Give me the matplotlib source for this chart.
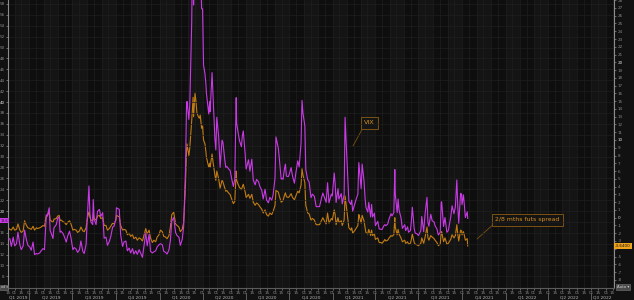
import matplotlib
matplotlib.use('Agg')
import matplotlib.pyplot as plt
import matplotlib.dates as mdates
import matplotlib.transforms as mtransforms
import pandas as pd

# VIX close and 2/8 month VIX futures spread (~2 obs per week)
dates = [
    "2019-02-15", "2019-02-19", "2019-02-22", "2019-02-26",
    "2019-03-01", "2019-03-05", "2019-03-08", "2019-03-12", "2019-03-15", "2019-03-19", "2019-03-22", "2019-03-26", "2019-03-29",
    "2019-04-02", "2019-04-05", "2019-04-09", "2019-04-12", "2019-04-16", "2019-04-18", "2019-04-23", "2019-04-26", "2019-04-30",
    "2019-05-03", "2019-05-07", "2019-05-09", "2019-05-13", "2019-05-15", "2019-05-17", "2019-05-21", "2019-05-23", "2019-05-28", "2019-05-31",
    "2019-06-03", "2019-06-05", "2019-06-07", "2019-06-11", "2019-06-14", "2019-06-18", "2019-06-21", "2019-06-25", "2019-06-28",
    "2019-07-02", "2019-07-05", "2019-07-09", "2019-07-12", "2019-07-16", "2019-07-19", "2019-07-23", "2019-07-26", "2019-07-30",
    "2019-08-01", "2019-08-05", "2019-08-07", "2019-08-09", "2019-08-13", "2019-08-14", "2019-08-16", "2019-08-20", "2019-08-23", "2019-08-27", "2019-08-30",
    "2019-09-03", "2019-09-06", "2019-09-10", "2019-09-13", "2019-09-17", "2019-09-20", "2019-09-24", "2019-09-27",
    "2019-10-01", "2019-10-02", "2019-10-08", "2019-10-11", "2019-10-15", "2019-10-18", "2019-10-22", "2019-10-25", "2019-10-29",
    "2019-11-01", "2019-11-05", "2019-11-08", "2019-11-12", "2019-11-15", "2019-11-19", "2019-11-22", "2019-11-26",
    "2019-12-03", "2019-12-06", "2019-12-10", "2019-12-13", "2019-12-17", "2019-12-20", "2019-12-24", "2019-12-27", "2019-12-31",
    "2020-01-03", "2020-01-07", "2020-01-10", "2020-01-14", "2020-01-17", "2020-01-21", "2020-01-24", "2020-01-27", "2020-01-31",
    "2020-02-04", "2020-02-07", "2020-02-11", "2020-02-14", "2020-02-18", "2020-02-21", "2020-02-24", "2020-02-25", "2020-02-27", "2020-02-28",
    "2020-03-03", "2020-03-05", "2020-03-09", "2020-03-12", "2020-03-13", "2020-03-16", "2020-03-18", "2020-03-20", "2020-03-23", "2020-03-25", "2020-03-27", "2020-03-30",
    "2020-04-01", "2020-04-03", "2020-04-06", "2020-04-08", "2020-04-09", "2020-04-14", "2020-04-16", "2020-04-17", "2020-04-21", "2020-04-23", "2020-04-27", "2020-04-29",
    "2020-05-01", "2020-05-05", "2020-05-08", "2020-05-12", "2020-05-14", "2020-05-18", "2020-05-20", "2020-05-22", "2020-05-27", "2020-05-29",
    "2020-06-02", "2020-06-05", "2020-06-08", "2020-06-11", "2020-06-12", "2020-06-15", "2020-06-18", "2020-06-22", "2020-06-24", "2020-06-26", "2020-06-30",
    "2020-07-02", "2020-07-07", "2020-07-10", "2020-07-14", "2020-07-17", "2020-07-21", "2020-07-24", "2020-07-28", "2020-07-31",
    "2020-08-04", "2020-08-07", "2020-08-11", "2020-08-14", "2020-08-18", "2020-08-21", "2020-08-25", "2020-08-28",
    "2020-09-01", "2020-09-03", "2020-09-08", "2020-09-10", "2020-09-14", "2020-09-16", "2020-09-18", "2020-09-21", "2020-09-23", "2020-09-25", "2020-09-29",
    "2020-10-01", "2020-10-05", "2020-10-08", "2020-10-12", "2020-10-15", "2020-10-19", "2020-10-22", "2020-10-26", "2020-10-28", "2020-10-30",
    "2020-11-03", "2020-11-05", "2020-11-09", "2020-11-12", "2020-11-16", "2020-11-19", "2020-11-23", "2020-11-27",
    "2020-12-01", "2020-12-04", "2020-12-08", "2020-12-11", "2020-12-15", "2020-12-18", "2020-12-21", "2020-12-24", "2020-12-29", "2020-12-31",
    "2021-01-04", "2021-01-06", "2021-01-08", "2021-01-12", "2021-01-14", "2021-01-19", "2021-01-21", "2021-01-25", "2021-01-27", "2021-01-29",
    "2021-02-02", "2021-02-04", "2021-02-08", "2021-02-10", "2021-02-12", "2021-02-17", "2021-02-19", "2021-02-23", "2021-02-25", "2021-02-26",
    "2021-03-02", "2021-03-04", "2021-03-08", "2021-03-10", "2021-03-12", "2021-03-16", "2021-03-18", "2021-03-22", "2021-03-24", "2021-03-26", "2021-03-30",
    "2021-04-01", "2021-04-06", "2021-04-09", "2021-04-13", "2021-04-15", "2021-04-19", "2021-04-21", "2021-04-23", "2021-04-27", "2021-04-30",
    "2021-05-04", "2021-05-06", "2021-05-10", "2021-05-12", "2021-05-13", "2021-05-17", "2021-05-19", "2021-05-21", "2021-05-25", "2021-05-28",
    "2021-06-02", "2021-06-04", "2021-06-08", "2021-06-10", "2021-06-14", "2021-06-16", "2021-06-18", "2021-06-22", "2021-06-24", "2021-06-28",
    "2021-07-01", "2021-07-06", "2021-07-08", "2021-07-12", "2021-07-15", "2021-07-19", "2021-07-21", "2021-07-23", "2021-07-27", "2021-07-30",
    "2021-08-03", "2021-08-05", "2021-08-09", "2021-08-12", "2021-08-16", "2021-08-18", "2021-08-19", "2021-08-23", "2021-08-26", "2021-08-30",
    "2021-09-02", "2021-09-07", "2021-09-10", "2021-09-14", "2021-09-17", "2021-09-20", "2021-09-22", "2021-09-24", "2021-09-28", "2021-09-30",
    "2021-10-01", "2021-10-04", "2021-10-06", "2021-10-08", "2021-10-12", "2021-10-13",
]

vix = [
    14.9, 14.9, 13.5, 15.2,
    13.6, 14.0, 16.1, 13.8, 12.9, 13.6, 16.5, 14.7, 13.7,
    13.4, 12.8, 14.3, 12.0, 12.2, 12.1, 12.3, 12.7, 13.1,
    12.9, 19.3, 19.1, 20.6, 16.4, 16.0, 14.95, 16.9, 17.5, 18.7,
    18.9, 16.1, 16.3, 15.9, 15.3, 14.3, 15.4, 16.3, 15.1,
    12.9, 13.3, 13.0, 12.4, 12.9, 14.5, 12.6, 12.2, 13.9,
    17.9, 24.6, 19.5, 18.0, 17.5, 22.1, 18.5, 17.5, 19.9, 20.3, 19.0,
    19.7, 15.0, 15.2, 13.7, 14.4, 15.3, 17.05, 17.2,
    18.6, 20.6, 20.3, 15.6, 13.5, 14.3, 14.5, 12.7, 13.2,
    12.3, 13.1, 12.1, 12.7, 12.05, 12.9, 12.3, 11.5,
    16.0, 13.6, 15.7, 12.6, 12.3, 12.5, 12.7, 13.4, 13.8,
    14.0, 13.8, 12.6, 12.4, 12.1, 12.85, 14.6, 18.2, 18.8,
    16.05, 15.5, 15.2, 13.7, 14.8, 17.1, 25.0, 27.9, 39.2, 40.1,
    36.8, 39.6, 54.5, 75.5, 57.8, 82.7, 76.5, 66.0, 61.6, 63.9, 65.5, 57.1,
    57.1, 46.8, 45.2, 43.35, 41.7, 37.8, 40.1, 38.2, 45.4, 41.4, 33.3, 31.2,
    37.2, 33.6, 28.0, 33.0, 32.6, 29.3, 28.0, 28.2, 27.6, 27.5,
    25.7, 24.5, 25.8, 40.8, 36.1, 34.4, 32.9, 31.8, 33.8, 34.7, 30.4,
    27.7, 29.4, 27.3, 29.5, 25.7, 24.8, 25.8, 25.4, 24.5,
    23.8, 22.2, 24.0, 22.05, 21.5, 22.5, 22.0, 22.96,
    26.1, 33.6, 31.5, 29.7, 25.85, 26.0, 25.8, 27.8, 28.6, 26.4, 26.3,
    26.7, 27.96, 26.4, 25.1, 26.97, 29.2, 28.1, 32.5, 40.3, 38.0,
    35.6, 27.6, 25.75, 25.35, 22.45, 23.1, 22.7, 20.8,
    20.8, 20.8, 22.3, 23.3, 22.3, 21.6, 25.2, 21.5, 23.1, 22.75,
    26.97, 25.07, 21.56, 24.1, 22.2, 23.2, 21.3, 23.0, 37.2, 33.1,
    25.6, 21.8, 21.2, 21.99, 19.97, 21.5, 22.05, 23.1, 28.9, 27.95,
    24.1, 28.6, 25.5, 22.6, 20.7, 19.8, 21.6, 18.9, 21.2, 18.9, 19.6,
    17.3, 18.1, 16.7, 16.65, 16.6, 17.3, 17.5, 17.3, 17.6, 18.6,
    19.5, 19.1, 19.7, 27.6, 23.1, 19.7, 22.2, 20.15, 18.8, 16.8,
    17.5, 16.4, 17.1, 16.1, 16.4, 18.15, 20.7, 16.7, 15.97, 15.8,
    15.5, 16.4, 19.0, 16.2, 19.5, 22.5, 17.9, 17.2, 19.4, 18.2,
    18.0, 17.3, 16.7, 15.6, 16.1, 21.6, 21.7, 17.15, 18.8, 16.1,
    16.4, 18.8, 20.95, 19.5, 20.8, 25.7, 20.9, 17.75, 23.25, 23.1,
    21.15, 22.96, 21.0, 18.8, 19.85, 18.64,
]

spread = [
    -1.3, -1.5, -1.6, -1.2,
    -1.6, -1.5, -0.8, -1.6, -1.9, -1.7, -0.4, -1.0, -1.3,
    -1.4, -1.5, -1.1, -1.6, -1.3, -1.4, -1.3, -1.2, -1.0,
    -1.1, 0.3, 0.2, 0.8, -0.3, -0.4, -0.6, -0.2, -0.1, 0.2,
    0.3, -0.4, -0.3, -0.5, -0.6, -0.9, -0.6, -0.4, -0.8,
    -1.6, -1.5, -1.6, -1.9, -1.7, -1.2, -1.7, -1.8, -1.3,
    -0.3, 0.8, 0.1, -0.3, -0.4, 0.5, -0.1, -0.3, 0.2, 0.3, -0.1,
    0.0, -1.0, -1.0, -1.6, -1.4, -1.1, -0.7, -0.8,
    -0.3, 0.3, 0.1, -1.0, -1.6, -1.5, -1.6, -2.2, -2.0,
    -2.4, -2.2, -2.7, -2.5, -2.9, -2.6, -2.7, -3.0,
    -1.4, -2.1, -1.6, -2.6, -3.2, -2.9, -3.1, -2.5, -2.2,
    -1.6, -1.8, -2.4, -2.5, -2.7, -2.3, -1.2, 0.4, 0.7,
    -0.8, -1.0, -1.2, -1.8, -1.5, -0.6, 3.0, 4.5, 8.5, 9.5,
    8.0, 9.0, 12.5, 15.5, 13.0, 16.0, 15.0, 13.5, 13.0, 12.8, 13.2, 11.5,
    11.8, 10.0, 9.5, 8.5, 7.8, 6.5, 7.0, 6.5, 8.2, 7.2, 5.5, 4.8,
    6.0, 5.0, 3.8, 4.8, 4.6, 3.8, 3.4, 3.5, 3.1, 3.0,
    2.3, 1.8, 2.1, 6.0, 4.8, 4.3, 3.9, 3.6, 4.0, 4.3, 3.3,
    2.6, 3.0, 2.5, 3.0, 2.0, 1.6, 1.9, 1.7, 1.4,
    1.1, 0.6, 1.0, 0.4, 0.2, 0.6, 0.4, 0.8,
    1.6, 3.5, 3.3, 2.8, 2.0, 2.1, 2.2, 2.9, 3.2, 2.7, 2.6,
    2.7, 3.1, 2.6, 2.3, 2.8, 3.4, 3.2, 4.2, 6.3, 5.5,
    4.5, 1.6, 0.6, 0.5, -0.3, -0.1, -0.3, -0.9,
    -0.9, -0.9, -0.4, 0.0, -0.5, -0.8, 0.6, -0.7, -0.1, -0.3,
    1.0, 0.4, -0.9, 0.0, -0.6, -0.4, -1.0, -0.3, 2.8, 1.8,
    -0.3, -1.3, -1.6, -1.3, -2.0, -1.6, -1.4, -1.0, 0.4, 0.2,
    -0.7, 0.3, -0.4, -1.2, -1.9, -2.1, -1.5, -2.3, -1.6, -2.3, -2.1,
    -2.8, -2.6, -3.2, -3.2, -3.3, -3.0, -2.8, -3.0, -2.9, -2.6,
    -2.3, -2.4, -2.2, 0.0, -1.2, -2.2, -1.5, -2.1, -2.6, -3.1,
    -2.9, -3.3, -3.1, -3.4, -3.3, -2.8, -2.1, -3.2, -3.4, -3.5,
    -3.6, -3.3, -2.6, -3.3, -2.5, -1.2, -2.6, -2.9, -2.3, -2.5,
    -2.7, -2.9, -3.2, -3.6, -3.4, -1.9, -1.8, -3.1, -2.6, -3.4,
    -3.3, -2.8, -2.2, -2.6, -2.3, -0.9, -2.1, -3.0, -1.6, -1.7,
    -2.2, -1.8, -2.3, -2.9, -2.7, -3.64,
]

assert len(dates) == len(vix) == len(spread), (len(dates), len(vix), len(spread))

vix_ticks = list(range(8, 59, 2))
spread_ticks = list(range(-8, 29))
vix_bright = [20, 40]
spread_bright = [0, 10, 20]
vix_hidden = [18]      # covered by the last-value tag
spread_hidden = [-4]   # covered by the last-value tag
vix_label = "VIX"
spread_label = "2/8 mths futs spread"

BG = '#111111'
PANEL = '#141414'
BAND = '#0e0e0e'
GRID = '#1f1f1f'
MAGENTA = '#c93ae6'
ORANGE = '#c27c13'
TXT = '#8a8a8a'
BRIGHT = '#e0e0e0'
BOX_EDGE = '#7c5212'

W, H = 634, 300
x0, x1 = pd.Timestamp('2019-02-15'), pd.Timestamp('2022-08-18')
x = pd.to_datetime(dates)

fig = plt.figure(figsize=(W / 100, H / 100), dpi=100, facecolor=BG)
ax = fig.add_axes([8 / W, 12 / H, 606 / W, 288 / H])
ax.set_facecolor(PANEL)

# alternating month shading
months = pd.date_range('2019-02-01', '2022-09-01', freq='MS')
for i in range(len(months) - 1):
    if i % 2 == 0:
        ax.axvspan(months[i], months[i + 1], color=BAND, lw=0, zorder=0)

ax.plot(x, spread, color=ORANGE, lw=0.8, zorder=3)
ax.set_xlim(x0, x1)
ax.set_ylim(-9.05, 28.02)

ax2 = ax.twinx()
ax.yaxis.tick_right()
ax2.yaxis.tick_left()
ax2.plot(x, vix, color=MAGENTA, lw=0.8, zorder=3)
ax2.set_ylim(5.87, 58.72)
ax2.set_xlim(x0, x1)

# axes styling
for a in (ax, ax2):
    for s in a.spines.values():
        s.set_visible(False)
ax.spines['right'].set_visible(True)
ax.spines['right'].set_color('#8c8c8c')
ax.spines['bottom'].set_visible(True)
ax.spines['bottom'].set_color('#5a5a5a')
ax2.spines['left'].set_visible(True)
ax2.spines['left'].set_color('#8c8c8c')

ax.set_yticks(spread_ticks)
ax.set_yticklabels(['' if v in spread_hidden else str(v) for v in spread_ticks])
ax2.set_yticks(vix_ticks)
ax2.set_yticklabels(['' if v in vix_hidden else str(v) for v in vix_ticks])
ax.tick_params(axis='y', labelsize=3, colors=TXT, length=1.5, width=0.5, pad=1)
ax2.tick_params(axis='y', labelsize=3, colors=TXT, length=1.5, width=0.5, pad=1)
for t, v in zip(ax.get_yticklabels(), spread_ticks):
    if v in spread_bright:
        t.set_color(BRIGHT)
for t, v in zip(ax2.get_yticklabels(), vix_ticks):
    if v in vix_bright:
        t.set_color(BRIGHT)

ax.xaxis.set_major_locator(mdates.DayLocator(bymonthday=[1, 15]))
ax.xaxis.set_major_formatter(mdates.DateFormatter('%d'))
ax.tick_params(axis='x', labelsize=3, colors=TXT, length=1.5, width=0.5, pad=0.8)
ax.grid(axis='x', color=GRID, lw=0.5)
ax.set_axisbelow(True)
ax2.grid(axis='y', color=GRID, lw=0.5)

# quarter labels and separators below the axis
trans = mtransforms.blended_transform_factory(ax.transData, ax.transAxes)
quarters = pd.date_range('2019-01-01', '2022-07-01', freq='QS')
for q in quarters:
    qe = q + pd.offsets.QuarterBegin(startingMonth=1)
    s, e = max(q, x0), min(qe, x1)
    mid = s + (e - s) / 2
    ax.text(mid, -0.032, f"Q{q.quarter} {q.year}", transform=trans, ha='center', va='center',
            fontsize=3.2, color='#b5b5b5', clip_on=False)
    if q > x0:
        ax.plot([q, q], [-0.018, -0.06], transform=trans, color='#6a6a6a', lw=0.6, clip_on=False)

# annotations
ax.annotate(vix_label, xy=(353 / W, 1 - 146 / H), xycoords='figure fraction',
            xytext=(369.5 / W, 1 - 123 / H), textcoords='figure fraction',
            ha='center', va='center', fontsize=4.6, color='#d8901c',
            bbox=dict(boxstyle='square,pad=0.55', fc=PANEL, ec=BOX_EDGE, lw=0.7),
            arrowprops=dict(arrowstyle='-', color=BOX_EDGE, lw=0.6, shrinkA=0, shrinkB=0,
                            relpos=(0, 0)), zorder=6)
ax.annotate(spread_label, xy=(477 / W, 1 - 239 / H), xycoords='figure fraction',
            xytext=(527.5 / W, 1 - 220 / H), textcoords='figure fraction',
            ha='center', va='center', fontsize=4.4, color='#d8901c',
            bbox=dict(boxstyle='square,pad=0.55', fc=PANEL, ec=BOX_EDGE, lw=0.7),
            arrowprops=dict(arrowstyle='-', color=BOX_EDGE, lw=0.6, shrinkA=0, shrinkB=0,
                            relpos=(0, 0)), zorder=6)

# last value tags on the axes
fig.text(0.6 / W, 1 - 220.5 / H, f"{vix[-1]:.1f}", ha='left', va='center', fontsize=2.4, color='#111',
         bbox=dict(boxstyle='square,pad=0.15', fc=MAGENTA, ec='none'))
fig.text(615 / W, 1 - 246 / H, f"{spread[-1]:.4f}", ha='left', va='center', fontsize=3, color='#111',
         bbox=dict(boxstyle='square,pad=0.2', fc='#eea21e', ec='none'))

# small scale buttons
fig.text(617 / W, 1 - 287 / H, "Auto \u25be", ha='left', va='center', fontsize=2.8, color='#d0d0d0',
         bbox=dict(boxstyle='square,pad=0.2', fc='#4a4a4a', ec='#777', lw=0.4))
fig.text(0.6 / W, 1 - 287 / H, "ad \u25be", ha='left', va='center', fontsize=2.4, color='#d0d0d0',
         bbox=dict(boxstyle='square,pad=0.15', fc='#4a4a4a', ec='#777', lw=0.4))

fig.savefig('out.png', dpi=100, facecolor=BG)
